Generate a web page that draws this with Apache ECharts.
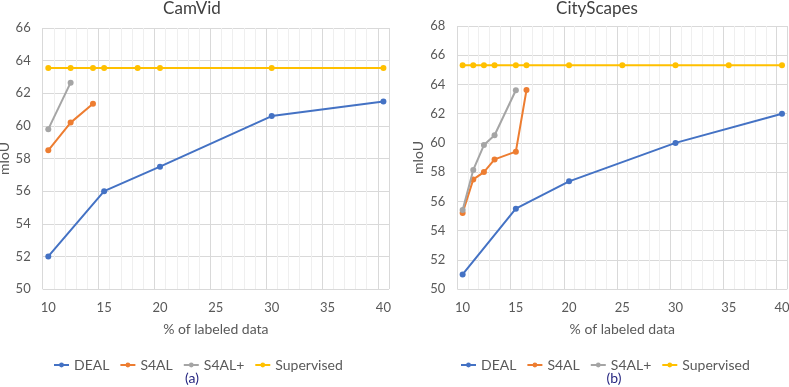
<!DOCTYPE html>
<html><head><meta charset="utf-8">
<script src="https://cdn.jsdelivr.net/npm/echarts@6/dist/echarts.min.js"></script>
<style>html,body{margin:0;padding:0;background:#fff}#c{width:789px;height:387px}</style>
</head><body><div id="c"></div>
<script>
// CamVid (a)
const camDealX = [10, 15, 20, 30, 40];
const camDealY = [52.0, 56.0, 57.5, 60.6, 61.5];
const camS4alX = [10, 12, 14];
const camS4alY = [58.5, 60.2, 61.35];
const camS4alPX = [10, 12];
const camS4alPY = [59.8, 62.65];
const camSupX = [10, 12, 14, 15, 18, 20, 30, 40];
const camSupY = [63.55, 63.55, 63.55, 63.55, 63.55, 63.55, 63.55, 63.55];
// CityScapes (b)
const cityDealX = [10, 15, 20, 30, 40];
const cityDealY = [51.0, 55.5, 57.37, 60.0, 62.0];
const cityS4alX = [10, 11, 12, 13, 15, 16];
const cityS4alY = [55.2, 57.5, 58.0, 58.87, 59.4, 63.62];
const cityS4alPX = [10, 11, 12, 13, 15];
const cityS4alPY = [55.4, 58.15, 59.85, 60.52, 63.6];
const citySupX = [10, 11, 12, 13, 15, 16, 20, 25, 30, 35, 40];
const citySupY = [65.32, 65.32, 65.32, 65.32, 65.32, 65.32, 65.32, 65.32, 65.32, 65.32, 65.32];
const seriesNames = ['DEAL', 'S4AL', 'S4AL+', 'Supervised'];
const xTickLabels = [10, 15, 20, 25, 30, 35, 40];
const titles = ['CamVid', 'CityScapes'];
const captions = ['(a)', '(b)'];

const colors = ['#4472C4', '#ED7D31', '#A5A5A5', '#FFC000'];
const FONT = 'Lato';
const TXT = '#595959';
const pairs = (xs, ys) => xs.map((x, i) => [x, ys[i]]);

const chart = echarts.init(document.getElementById('c'), null, {renderer: 'canvas'});

const grids = [
  {left: 42.7, top: 28, width: 346.3, height: 261, outerBoundsMode: 'none', containLabel: false},
  {left: 457.3, top: 26, width: 330, height: 263, outerBoundsMode: 'none', containLabel: false}
];
const xAxes = [];
const yAxes = [];
[0, 1].forEach(g => {
  // gridline axis
  xAxes.push({
    type: 'value', gridIndex: g, position: 'bottom', min: 9.5, max: 40.5, interval: 5,
    axisLine: {show: false}, axisTick: {show: false}, axisLabel: {show: false},
    splitLine: {show: true, lineStyle: {color: '#d9d9d9', width: 1}},
    minorTick: {show: false, splitNumber: 5},
    minorSplitLine: {show: true, lineStyle: {color: '#efefef', width: 1}}
  });
  // label axis
  xAxes.push({
    type: 'value', gridIndex: g, position: 'bottom', min: 9.5, max: 40.5, interval: 0.5,
    axisLine: {show: false}, axisTick: {show: false}, splitLine: {show: false},
    axisLabel: {
      color: TXT, fontFamily: FONT, fontSize: 13, margin: 12,
      showMinLabel: true, showMaxLabel: true,
      formatter: v => xTickLabels.some(t => Math.abs(t - v) < 1e-6) ? String(Math.round(v)) : ''
    },
    name: '% of labeled data', nameLocation: 'middle', nameGap: 33,
    nameTextStyle: {color: TXT, fontFamily: FONT, fontSize: 14}
  });
  yAxes.push({
    type: 'value', gridIndex: g, position: 'left', min: 50, max: g === 0 ? 66 : 68, interval: 2,
    axisLine: {show: false}, axisTick: {show: false},
    splitLine: {show: true, lineStyle: {color: '#d9d9d9', width: 1}},
    axisLabel: {color: TXT, fontFamily: FONT, fontSize: 13, margin: 12},
    name: 'mIoU', nameLocation: 'middle', nameGap: g === 0 ? 30 : 32, nameRotate: 90,
    nameTextStyle: {color: TXT, fontFamily: FONT, fontSize: 14}
  });
});

const data = [
  [pairs(camDealX, camDealY), pairs(camS4alX, camS4alY), pairs(camS4alPX, camS4alPY), pairs(camSupX, camSupY)],
  [pairs(cityDealX, cityDealY), pairs(cityS4alX, cityS4alY), pairs(cityS4alPX, cityS4alPY), pairs(citySupX, citySupY)]
];
const series = [];
[0, 1].forEach(g => {
  seriesNames.forEach((name, i) => {
    series.push({
      name, type: 'line', xAxisIndex: g * 2 + 1, yAxisIndex: g,
      data: data[g][i], symbol: 'circle', symbolSize: 6, showSymbol: true,
      lineStyle: {color: colors[i], width: 2},
      itemStyle: {color: colors[i]},
      animation: false, z: 2 + i
    });
  });
});

const legendBase = {
  data: seriesNames, itemWidth: 15, itemHeight: 6, itemGap: 10,
  textStyle: {color: TXT, fontFamily: FONT, fontSize: 14},
  selectedMode: false
};

const titleStyle = {color: '#404040', fontFamily: FONT, fontSize: 17, fontWeight: 'normal'};
const capStyle = {color: '#262680', fontFamily: FONT, fontSize: 14, fontWeight: 'normal'};

chart.setOption({
  animation: false,
  color: colors,
  title: [
    {text: titles[0], left: 192, top: 0, padding: 0, textAlign: 'center', textStyle: titleStyle},
    {text: titles[1], left: 597, top: 0, padding: 0, textAlign: 'center', textStyle: titleStyle},
    {text: captions[0], left: 192, top: 371, padding: 0, textAlign: 'center', textStyle: capStyle},
    {text: captions[1], left: 614, top: 371, padding: 0, textAlign: 'center', textStyle: capStyle}
  ],
  legend: [
    Object.assign({}, legendBase, {left: 48, top: 353}),
    Object.assign({}, legendBase, {left: 455, top: 353})
  ],
  grid: grids,
  xAxis: xAxes,
  yAxis: yAxes,
  series
});
</script></body></html>
